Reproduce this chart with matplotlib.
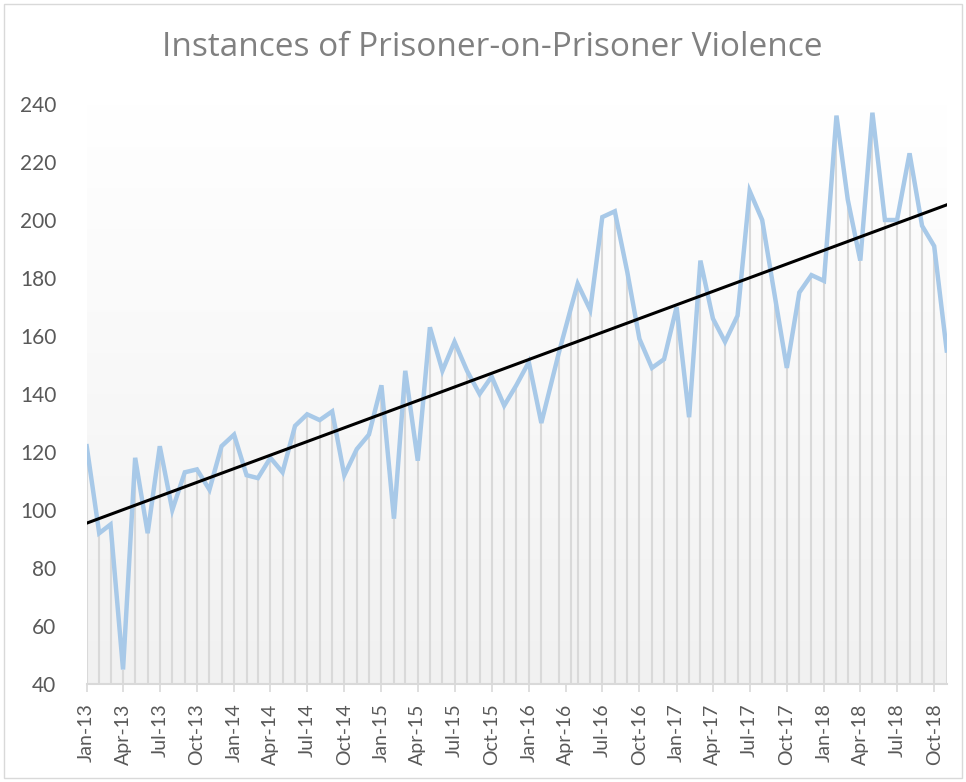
import matplotlib
matplotlib.use("Agg")
import matplotlib.pyplot as plt
import matplotlib.dates as mdates
from matplotlib.colors import LinearSegmentedColormap
from matplotlib.patches import Rectangle
import numpy as np
import pandas as pd

title = "Instances of Prisoner-on-Prisoner Violence"

dates = pd.to_datetime(
    [f"{y}-{m:02d}-01" for y in range(2013, 2019) for m in range(1, 13)][:71]
)
dates = list(dates)
dates[38] = pd.Timestamp("2016-03-15")
dates[39] = pd.Timestamp("2016-04-15")
dates = pd.DatetimeIndex(dates)

values = [
    122, 92, 95, 45, 118, 92, 122, 100, 113, 114, 107, 122,
    126, 112, 111, 118, 113, 129, 133, 131, 134, 112, 121, 126,
    143, 97, 148, 117, 163, 148, 158, 148, 140, 146, 136, 143,
    151, 130, 154, 170, 178, 169, 201, 203, 182, 159, 149, 152,
    170, 132, 186, 166, 158, 167, 210, 200, 174, 149, 175, 181,
    179, 236, 207, 186, 237, 200, 200, 223, 198, 191, 155,
]

y_ticks = [40, 60, 80, 100, 120, 140, 160, 180, 200, 220, 240]

fig = plt.figure(figsize=(9.66, 7.82), dpi=100)
ax = fig.add_axes([86.7 / 966, 1 - 684 / 782, (946.7 - 86.7) / 966, (684 - 104) / 782])

xnum = mdates.date2num(dates)
ax.set_xlim(xnum[0], xnum[-1])
ax.set_ylim(40, 240)

# gradient plot-area background
cmap = LinearSegmentedColormap.from_list("g", ["#f1f1f1", "#ffffff"])
grad = np.linspace(0, 1, 256).reshape(-1, 1)
ax.imshow(grad, cmap=cmap, aspect="auto", extent=[0, 1, 0, 1],
          transform=ax.transAxes, origin="lower", zorder=0)

# drop lines
ax.vlines(xnum, 40, values, color="#d9d9d9", lw=1.5, zorder=1)

# data line
ax.plot(xnum, values, color="#a8c9e8", lw=3.2, solid_joinstyle="miter", zorder=3)

# linear trend
coef = np.polyfit(xnum, values, 1)
tx = np.array([xnum[0], xnum[-1]])
ax.plot(tx, np.polyval(coef, tx), color="black", lw=2.2, zorder=4)

for s in ["top", "right", "left"]:
    ax.spines[s].set_visible(False)
ax.spines["bottom"].set_color("#d9d9d9")
ax.spines["bottom"].set_linewidth(1.5)
ax.spines["bottom"].set_zorder(5)

ax.set_yticks(y_ticks)
ax.tick_params(axis="y", length=0, pad=22, labelsize=15, labelcolor="#595959")
ax.xaxis.set_major_locator(mdates.MonthLocator(bymonth=[1, 4, 7, 10]))
ax.xaxis.set_major_formatter(mdates.DateFormatter("%b-%y"))
ax.tick_params(axis="x", length=6, width=1.2, color="#d9d9d9", pad=8,
               labelsize=14, labelcolor="#595959", labelrotation=90)
for lab in ax.get_xticklabels() + ax.get_yticklabels():
    lab.set_fontfamily(["Lato", "DejaVu Sans"])

fig.text(0.51, 1 - 47 / 782, title, ha="center", va="center",
         fontsize=24, color="#808080", family=["Open Sans", "DejaVu Sans"])

fig.patches.append(Rectangle((4 / 966, 4 / 782), 958 / 966, 774 / 782,
                             transform=fig.transFigure, fill=False,
                             edgecolor="#d9d9d9", lw=1))

fig.savefig("out.png", dpi=100)
